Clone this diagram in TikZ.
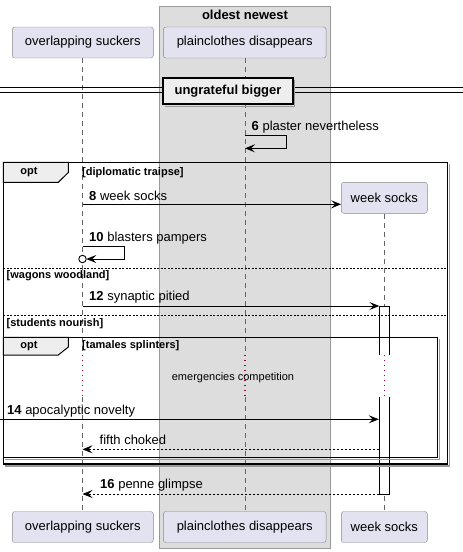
\documentclass[tikz,border=0pt]{standalone}
\usepackage{fontspec}
\setmainfont{Liberation Sans}
\usetikzlibrary{arrows.meta}
\definecolor{partfill}{HTML}{E2E2F0}
\definecolor{partline}{HTML}{888888}
\definecolor{boxfill}{HTML}{DDDDDD}
\definecolor{boxline}{HTML}{999999}
\definecolor{tabfill}{HTML}{EEEEEE}
\definecolor{lifeline}{HTML}{666666}
\definecolor{delayred}{HTML}{A80036}
\newcommand{\bigfont}{\fontsize{13}{15}\selectfont}
\newcommand{\smallfont}{\fontsize{11}{13}\selectfont}
\tikzset{
  partbox/.style={draw=partline, fill=partfill, rounded corners=2.5pt, font=\bigfont,
    minimum height=31pt, inner sep=0pt},
  msg/.style={anchor=west, inner sep=0pt, font=\bigfont},
  guard/.style={anchor=west, inner sep=0pt, font=\smallfont\bfseries},
  life/.style={draw=lifeline, line width=0.8pt, dash pattern=on 5pt off 4pt},
  delayline/.style={draw=delayred, line width=1.3pt, dash pattern=on 1.3pt off 3.7pt},
  call/.style={line width=0.8pt, -{Stealth[length=10pt,width=8pt,inset=4pt]}},
  reply/.style={call, dash pattern=on 2pt off 2pt},
  frame/.style={line width=1.5pt},
  shade/.style={draw=boxline, line width=1.5pt},
  sep/.style={line width=0.6pt, dash pattern=on 2pt off 1.5pt},
}
\begin{document}
\begin{tikzpicture}[x=1pt,y=-1pt]
\useasboundingbox (0,0) rectangle (463,552);
% grouping box
\draw [draw=boxline, fill=boxfill] (159.3,6) rectangle (330.3,548);
\node [font=\bigfont\bfseries, inner sep=0pt] (boxtitle) at (245,15) {oldest newest};

% participants
\node [partbox, minimum width=141pt] (suckers) at (82.8,42.5) {overlapping suckers};
\node [partbox, minimum width=162.7pt] (plain) at (244.7,42.5) {plainclothes disappears};
\node [partbox, minimum width=86pt] (socks) at (384.3,197.8) {week socks};
\node [partbox, minimum width=141pt] (suckersEnd) at (82.8,527) {overlapping suckers};
\node [partbox, minimum width=162.7pt] (plainEnd) at (244.7,527) {plainclothes disappears};
\node [partbox, minimum width=86pt] (socksEnd) at (384.3,527) {week socks};

% lifelines with the delay gap
\coordinate (aDelay) at (82.5,355);
\coordinate (aResume) at (82.5,397);
\coordinate (bDelay) at (245,355);
\coordinate (bResume) at (245,397);
\coordinate (cDelay) at (384.5,355);
\coordinate (cResume) at (384.5,397);
\draw [life] (suckers.south -| aDelay) -- (aDelay);
\draw [life] (aResume) -- (suckersEnd.north -| aResume);
\draw [life] (plain.south -| bDelay) -- (bDelay);
\draw [life] (bResume) -- (plainEnd.north -| bResume);
\draw [life] (socks.south -| cDelay) -- (cDelay);
\draw [life] (cResume) -- (socksEnd.north -| cResume);
\draw [delayline] (aDelay) -- (aResume);
\draw [delayline] (bDelay) -- (bResume);
\draw [delayline] (cDelay) -- (cResume);

% activation of week socks
\draw [fill=white, line width=0.8pt] (379.3,355) -- (379.3,306) -- (389.3,306) -- (389.3,355);
\draw [fill=white, line width=0.8pt] (379.3,397) -- (379.3,494) -- (389.3,494) -- (389.3,397);

% divider
\draw [line width=0.9pt] (0,87.5) -- (463,87.5);
\draw [line width=0.9pt] (0,92.5) -- (463,92.5);
\draw [shade] (165.3,106.3) -- (294.7,106.3) -- (294.7,79.7);
\node [draw, line width=2pt, fill=tabfill, minimum width=129.4pt, minimum height=26.6pt,
  inner sep=0pt, font=\bigfont\bfseries] (divider) at (228,91) {ungrateful bigger};

% 6: self message
\node [msg] (m6) at (251.5,127) {\textbf{6} plaster nevertheless};
\coordinate (s6a) at (245,135);
\coordinate (s6b) at (286,135);
\coordinate (s6c) at (286,148.3);
\coordinate (s6d) at (245,148.3);
\draw [call] (s6a) -- (s6b) -- (s6c) -- (s6d);

% outer opt
\draw [shade] (449.7,164.3) -- (449.7,466) -- (5.3,466);
\draw [frame] (3.3,162.3) rectangle (447.7,464);
\draw [fill=tabfill, line width=1pt] (3.3,162.3) -- (68.3,162.3) -- (68.3,172.5) -- (58.3,182.3) -- (3.3,182.3) -- cycle;
\node [font=\smallfont\bfseries, inner sep=0pt] (opt1) at (29,172.5) {opt};
\node [guard] (g1) at (82,172.5) {[diplomatic traipse]};

% 8
\node [msg] (m8) at (89,196) {\textbf{8} week socks};
\coordinate (a8) at (82.5,204.3);
\draw [call] (a8) -- (socks.west |- a8);

% 10: self message to lost circle
\node [msg] (m10) at (89,238) {\textbf{10} blasters pampers};
\coordinate (s10a) at (82.5,246);
\coordinate (s10b) at (124.3,246);
\coordinate (s10c) at (124.3,259);
\coordinate (s10d) at (86.3,259);
\draw [call] (s10a) -- (s10b) -- (s10c) -- (s10d);
\node [draw, circle, fill=white, line width=0.9pt, minimum size=7.4pt, inner sep=0pt] (lost10) at (82.5,259) {};

% else: wagons woodland
\draw [sep] (3.3,268.3) -- (447.7,268.3);
\node [guard] (g2) at (6.5,276) {[wagons woodland]};

% 12
\node [msg] (m12) at (89,297) {\textbf{12} synaptic pitied};
\coordinate (a12) at (82.5,306);
\coordinate (c12) at (379.3,306);
\draw [call] (a12) -- (c12);

% else: students nourish
\draw [sep] (3.3,315.7) -- (447.7,315.7);
\node [guard] (g3) at (6.5,323.5) {[students nourish]};

% inner opt
\draw [shade] (439.7,339.3) -- (439.7,459.3) -- (5.3,459.3);
\draw [frame] (3.3,337.3) rectangle (437.7,457.3);
\draw [fill=tabfill, line width=1pt] (3.3,337.3) -- (68.3,337.3) -- (68.3,347) -- (58.3,355) -- (3.3,355) -- cycle;
\node [font=\smallfont\bfseries, inner sep=0pt] (opt2) at (29,346.5) {opt};
\node [guard] (g4) at (82,346) {[tamales splinters]};

% delay
\node [font=\smallfont, inner sep=0pt] (delay) at (233,377.3) {emergencies competition};

% 14: found message
\node [msg] (m14) at (7,411) {\textbf{14} apocalyptic novelty};
\coordinate (x14) at (0,419.3);
\coordinate (c14) at (378.8,419.3);
\draw [call] (x14) -- (c14);

% fifth choked
\node [msg] (mfifth) at (99.5,440) {fifth choked};
\coordinate (cfifth) at (379.3,449.3);
\coordinate (afifth) at (82.5,449.3);
\draw [reply] (cfifth) -- (afifth);

% 16
\node [msg] (m16) at (100,485) {\textbf{16} penne glimpse};
\coordinate (c16) at (379.3,494);
\coordinate (a16) at (82.5,494);
\draw [reply] (c16) -- (a16);
\end{tikzpicture}
\end{document}
